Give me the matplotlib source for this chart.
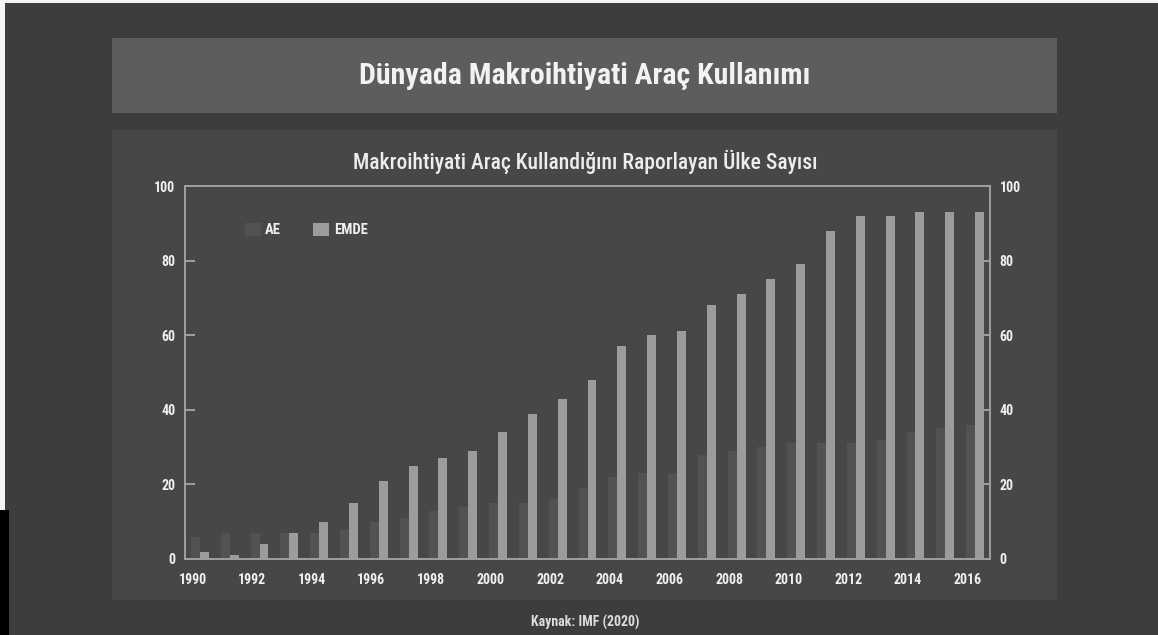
import matplotlib.pyplot as plt
from matplotlib.patches import Rectangle, Patch
import numpy as np

years = list(range(1990, 2017))
ae = [6, 7, 7, 7, 7, 8, 10, 11, 13, 14, 15, 15, 16, 19, 22, 23, 23, 28, 29, 30,
      31, 31, 31, 32, 34, 35, 36]
emde = [2, 1, 4, 7, 10, 15, 21, 25, 27, 29, 34, 39, 43, 48, 57, 60, 61, 68, 71, 75,
        79, 88, 92, 92, 93, 93, 93]
tick_years = list(range(1990, 2017, 2))
y_ticks = [0, 20, 40, 60, 80, 100]

title = "Dünyada Makroihtiyati Araç Kullanımı"
subtitle = "Makroihtiyati Araç Kullandığını Raporlayan Ülke Sayısı"
source = "Kaynak: IMF (2020)"

# narrow font if one is around, else Roboto
FONT = ["Roboto Condensed", "DejaVu Sans Condensed", "Liberation Sans Narrow",
        "Roboto", "DejaVu Sans"]
plt.rcParams["font.family"] = FONT
plt.rcParams["font.stretch"] = "condensed"

W, H = 1158, 635
fig = plt.figure(figsize=(W / 100, H / 100), dpi=100)
fig.patch.set_facecolor("#3d3d3d")


def px_rect(x0, y0, x1, y1, color):
    # rectangle in pixel coords, origin top-left
    r = Rectangle((x0 / W, 1 - y1 / H), (x1 - x0) / W, (y1 - y0) / H,
                  transform=fig.transFigure, facecolor=color, edgecolor="none",
                  zorder=-5)
    fig.patches.append(r)


# frame edges
px_rect(0, 0, W, 3, "#f4f4f4")
px_rect(0, 0, 5, 510, "#f4f4f4")
px_rect(0, 510, 9, H, "#000000")

# title box + chart panel
px_rect(112, 38, 1057, 113, "#5d5d5d")
px_rect(112, 130, 1057, 600, "#474747")

fig.text(585 / W, 1 - 76 / H, title, ha="center", va="center", color="#f2f2f2",
         fontsize=21.5, fontweight="bold")
fig.text(585 / W, 1 - 162 / H, subtitle, ha="center", va="center", color="#ececec",
         fontsize=15.5, fontweight="medium")
fig.text(585 / W, 1 - 622 / H, source, ha="center", va="center", color="#dcdcdc",
         fontsize=10, fontweight="bold")

# axes box: x 185-990, y 186-559 (px)
ax = fig.add_axes([185 / W, 1 - 559 / H, (990 - 185) / W, (559 - 186) / H])
ax.set_facecolor("none")

x = np.array(years)
w = 0.3
ax.bar(x - 0.15, ae, width=w, color="#525252", label="AE")
ax.bar(x + 0.15, emde, width=w, color="#9c9c9c", label="EMDE")

ax.set_xlim(1989.5, 2016.5)
ax.set_ylim(0, 100)

for s in ax.spines.values():
    s.set_color("#a0a0a0")
    s.set_linewidth(1.4)

ax.set_xticks([t - 0.25 for t in tick_years])
ax.set_xticklabels([str(t) for t in tick_years])
ax.set_yticks(y_ticks)
ax.tick_params(axis="x", length=0, pad=10, colors="#f0f0f0", labelsize=10)
ax.tick_params(axis="y", direction="in", length=7, width=1.4, color="#a0a0a0",
               labelcolor="#f0f0f0", labelsize=10, pad=7,
               left=True, right=True, labelleft=True, labelright=True)
for lab in ax.get_xticklabels() + ax.get_yticklabels():
    lab.set_fontweight("bold")

handles = [Patch(facecolor="#525252", label="AE"),
           Patch(facecolor="#9c9c9c", label="EMDE")]
leg = ax.legend(handles=handles, loc="center left", bbox_to_anchor=(0.058, 0.882),
                ncol=2, frameon=False, fontsize=10.5, handlelength=1.1,
                handleheight=1.05, handletextpad=0.3, columnspacing=2.2)
for t in leg.get_texts():
    t.set_color("#f0f0f0")
    t.set_fontweight("bold")

fig.savefig("out.png", dpi=100, facecolor=fig.get_facecolor())
